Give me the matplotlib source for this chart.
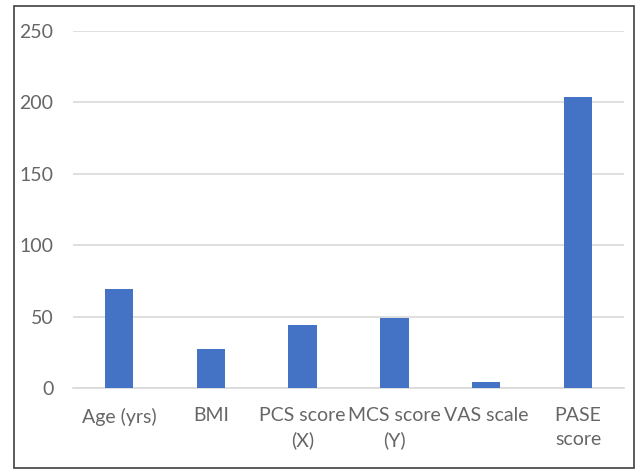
import matplotlib.pyplot as plt
from matplotlib.patches import Rectangle

# Chart data
categories = ['Age (yrs)', 'BMI', 'PCS score\n(X)', 'MCS score\n(Y)', 'VAS scale', 'PASE\nscore']
values = [69, 27, 44, 49, 4, 204]
y_ticks = [0, 50, 100, 150, 200, 250]

plt.rcParams['font.family'] = ['Lato', 'DejaVu Sans']

fig = plt.figure(figsize=(6.36, 4.70), dpi=100)
ax = fig.add_axes([73 / 636, 1 - 388 / 470, (624 - 73) / 636, (388 - 31) / 470])

x = range(len(categories))
ax.bar(x, values, width=0.31, color='#4472C4', zorder=3)

ax.set_xlim(-0.5, len(categories) - 0.5)
ax.set_ylim(0, 250)
ax.set_yticks(y_ticks)
ax.set_xticks(list(x))
ax.set_xticklabels([])

ax.grid(axis='y', color='#d9d9d9', linewidth=1.2, zorder=0)
for s in ['top', 'right', 'left']:
    ax.spines[s].set_visible(False)
ax.spines['bottom'].set_color('#d9d9d9')
ax.spines['bottom'].set_linewidth(1.2)
ax.tick_params(axis='both', length=0, colors='#666666', labelsize=14)
ax.tick_params(axis='y', pad=14)

# category labels, centred line by line
for i, cat in enumerate(categories):
    ax.annotate(cat, xy=(i, 0), xycoords=('data', 'axes fraction'),
                xytext=(0, -14), textcoords='offset points',
                ha='center', va='top', ma='center', linespacing=1.45,
                fontsize=14, color='#666666')

# outer chart border
fig.patches.append(Rectangle((14 / 636, 2 / 470), 620 / 636, 462 / 470,
                             transform=fig.transFigure, fill=False,
                             edgecolor='#404040', linewidth=1.2))

fig.savefig('out.png', dpi=100)
